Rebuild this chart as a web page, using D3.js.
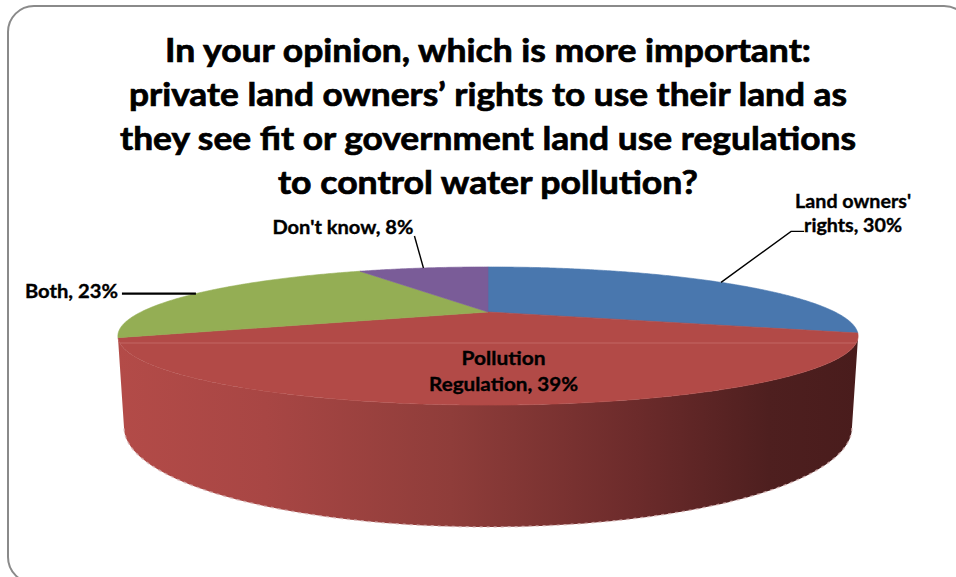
<!DOCTYPE html>
<html>
<head>
<meta charset="utf-8">
<script src="https://cdn.jsdelivr.net/npm/d3@7"></script>
<style>
  html, body { margin: 0; padding: 0; background: #fff; }
  svg { display: block; }
  text { font-family: Lato, "Open Sans", "DejaVu Sans", sans-serif; font-weight: bold; fill: #000; }
  .title text { stroke: #000; stroke-width: 0.7px; }
  .labels text { stroke: #000; stroke-width: 0.35px; }
</style>
</head>
<body>
<svg id="chart" width="956" height="577"></svg>
<script>
// Survey answers, in pie order (clockwise from 12 o'clock)
const categories = ["Land owners' rights", "Pollution Regulation", "Both", "Don't know"];
const values = [30, 39, 23, 8];
const labelLines = [
  ["Land owners'", "rights, 30%"],
  ["Pollution", "Regulation, 39%"],
  ["Both, 23%"],
  ["Don't know, 8%"]
];
const titleLines = [
  "In your opinion, which is more important:",
  "private land owners\u2019 rights to use their land as",
  "they see fit or government land use regulations",
  "to control water pollution?"
];

// Slice fills for the top face
const palette = ["#4977ae", "#b24a47", "#94ae54", "#7a5c98"];

const W = 956, H = 577;
const svg = d3.select("#chart");

// Frame
svg.append("rect")
  .attr("x", 8).attr("y", 6)
  .attr("width", 962).attr("height", 577)
  .attr("rx", 26).attr("ry", 26)
  .attr("fill", "none")
  .attr("stroke", "#8a8a8a")
  .attr("stroke-width", 2);

// Title
const title = svg.append("g").attr("class", "title");
const titleWidths = [646, 718, 736, 420];
titleLines.forEach((t, i) => {
  title.append("text")
    .attr("x", 488)
    .attr("y", 62 + i * 44)
    .attr("text-anchor", "middle")
    .attr("font-size", 32)
    .attr("textLength", titleWidths[i])
    .attr("lengthAdjust", "spacingAndGlyphs")
    .text(t);
});

// Perspective camera for a tilted cylinder (unit radius, top at Y=0)
const cam = { cx: 488, cy: 312, F: 982, d: 2.83, phi: Math.asin(0.175), h: 0.242 };
function project(theta, r, Y) {
  const X = r * Math.sin(theta);
  const Z = -r * Math.cos(theta);
  const sp = Math.sin(cam.phi), cp = Math.cos(cam.phi);
  const depth = cam.d - Y * sp - Z * cp;
  return [cam.cx + cam.F * X / depth, cam.cy - cam.F * (Y * cp - Z * sp) / depth];
}

const pie = d3.pie().sort(null).value(d => d)(values);
const step = Math.PI / 360;
function arcPts(a0, a1, r, Y) {
  const n = Math.max(2, Math.ceil(Math.abs(a1 - a0) / step));
  return d3.range(n + 1).map(i => project(a0 + (a1 - a0) * i / n, r, Y));
}
const line = d3.line();

// Visible range of the side wall (silhouette of the top rim)
const p = Math.cos(cam.phi) / cam.d;
const thR = Math.acos(-p);               // right silhouette
const thL = 2 * Math.PI - Math.acos(-p); // left silhouette

// Side wall shading
const defs = svg.append("defs");
const grad = defs.append("linearGradient")
  .attr("id", "wallShade")
  .attr("gradientUnits", "userSpaceOnUse")
  .attr("x1", 118).attr("y1", 0).attr("x2", 858).attr("y2", 0);
[[0, "#b34b48"], [0.2, "#a84644"], [0.45, "#8f3d3a"], [0.7, "#6c2b2b"], [0.88, "#4e1f1f"], [1, "#491c1c"]]
  .forEach(s => grad.append("stop").attr("offset", s[0]).attr("stop-color", s[1]));
const gradG = defs.append("linearGradient")
  .attr("id", "wallShadeG")
  .attr("gradientUnits", "userSpaceOnUse")
  .attr("x1", 118).attr("y1", 0).attr("x2", 858).attr("y2", 0);
[[0, "#7f9747"], [1, "#3c4a22"]]
  .forEach(s => gradG.append("stop").attr("offset", s[0]).attr("stop-color", s[1]));

const walls = svg.append("g");
pie.forEach((s, i) => {
  const a0 = Math.max(s.startAngle, thR);
  const a1 = Math.min(s.endAngle, thL);
  if (a1 <= a0) return;
  const top = arcPts(a0, a1, 1, 0);
  const bot = arcPts(a1, a0, 1, -cam.h);
  walls.append("path")
    .attr("d", line(top.concat(bot)) + "Z")
    .attr("fill", i === 1 ? "url(#wallShade)" : "url(#wallShadeG)");
});

// Soft fringe along the bottom rim
walls.append("path")
  .attr("d", line(arcPts(thR, thL, 1, -cam.h)))
  .attr("fill", "none")
  .attr("stroke", "#d7b3b3")
  .attr("stroke-width", 1.5)
  .attr("stroke-dasharray", "3 4")
  .attr("opacity", 0.8);

// Top faces
const faces = svg.append("g");
pie.forEach((s, i) => {
  const pts = [project(0, 0, 0)].concat(arcPts(s.startAngle, s.endAngle, 1, 0));
  faces.append("path")
    .attr("d", line(pts) + "Z")
    .attr("fill", palette[i])
    .attr("stroke", palette[i])
    .attr("stroke-width", 0.6);
});

// Faint highlight across the face
const leftEdge = project(thL, 1, 0), rightEdge = project(thR, 1, 0);
svg.append("line")
  .attr("x1", leftEdge[0] + 2).attr("x2", rightEdge[0] - 2)
  .attr("y1", 343).attr("y2", 343)
  .attr("stroke", "#d88a86").attr("stroke-width", 1).attr("opacity", 0.45);

// Labels and leader lines
const lab = svg.append("g").attr("class", "labels");
const rim = pie.map(s => project((s.startAngle + s.endAngle) / 2, 1, 0));

// Land owners' rights
{
  const a = rim[0];
  const elbow = [a[0] + 70, a[1] - 51];
  lab.append("path")
    .attr("d", line([a, elbow, [elbow[0] + 13, elbow[1]]]))
    .attr("fill", "none").attr("stroke", "#000").attr("stroke-width", 1.4);
  const widths = [116, 98];
  labelLines[0].forEach((t, k) => {
    lab.append("text")
      .attr("x", elbow[0] + 62).attr("y", elbow[1] - 23 + k * 24)
      .attr("text-anchor", "middle").attr("font-size", 19)
      .attr("textLength", widths[k]).attr("lengthAdjust", "spacingAndGlyphs")
      .text(t);
  });
}
// Pollution Regulation (on the face)
{
  const c = project((pie[1].startAngle + pie[1].endAngle) / 2, 0.62, 0);
  const widths = [84, 149];
  labelLines[1].forEach((t, k) => {
    lab.append("text")
      .attr("x", c[0] + 7).attr("y", c[1] + 5 + k * 26)
      .attr("text-anchor", "middle").attr("font-size", 19)
      .attr("textLength", widths[k]).attr("lengthAdjust", "spacingAndGlyphs")
      .text(t);
  });
}
// Both
{
  const a = rim[2];
  const end = [a[0] - 74, a[1]];
  lab.append("path")
    .attr("d", line([a, end]))
    .attr("fill", "none").attr("stroke", "#000").attr("stroke-width", 2.4);
  lab.append("text")
    .attr("x", end[0] - 4).attr("y", a[1] + 4)
    .attr("text-anchor", "end").attr("font-size", 19)
    .attr("textLength", 93).attr("lengthAdjust", "spacingAndGlyphs")
    .text(labelLines[2][0]);
}
// Don't know
{
  const a = rim[3];
  const end = [a[0] - 9, a[1] - 32];
  lab.append("path")
    .attr("d", line([a, end]))
    .attr("fill", "none").attr("stroke", "#000").attr("stroke-width", 1.4);
  lab.append("text")
    .attr("x", end[0] - 1).attr("y", end[1] - 2)
    .attr("text-anchor", "end").attr("font-size", 19)
    .attr("textLength", 141).attr("lengthAdjust", "spacingAndGlyphs")
    .text(labelLines[3][0]);
}
</script>
</body>
</html>
